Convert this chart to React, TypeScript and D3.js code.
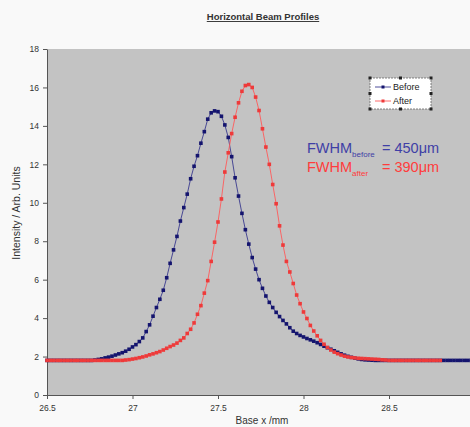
import React, { useEffect, useRef } from 'react';
import * as d3 from 'd3';

// beam position sampling (mm) – scan starts at 26.5 and steps 0.02 mm
const scanStart = 26.5;
const scanStep = 0.02;

// intensity, one value per scan position
const beforeValues = [
    1.8, 1.8, 1.8, 1.8, 1.8, 1.8, 1.8, 1.8, 1.8, 1.8, // 26.50
    1.8, 1.8, 1.8, 1.8, 1.82, 1.85, 1.88, 1.93, 1.97, 2.02, // 26.70
    2.08, 2.14, 2.2, 2.28, 2.38, 2.5, 2.62, 2.78, 2.97, 3.3, // 26.90
    3.65, 4.1, 4.55, 4.98, 5.45, 6.1, 6.85, 7.55, 8.25, 9.05, // 27.10
    9.75, 10.45, 11.25, 11.9, 12.45, 13.1, 13.7, 14.35, 14.68, 14.78, // 27.30
    14.74, 14.5, 14.05, 13.4, 12.4, 11.3, 10.35, 9.45, 8.6, 7.85, // 27.50
    7.15, 6.55, 6.0, 5.55, 5.15, 4.82, 4.55, 4.3, 4.08, 3.88, // 27.70
    3.7, 3.5, 3.32, 3.2, 3.1, 3.02, 2.94, 2.87, 2.8, 2.72, // 27.90
    2.63, 2.54, 2.46, 2.38, 2.3, 2.22, 2.14, 2.07, 2.01, 1.96, // 28.10
    1.92, 1.88, 1.85, 1.83, 1.82, 1.81, 1.8, 1.8, 1.8, 1.8, // 28.30
    1.8, 1.8, 1.8, 1.8, 1.8, 1.8, 1.8, 1.8, 1.8, 1.8, // 28.50
    1.8, 1.8, 1.8, 1.8, 1.8, 1.8, 1.8, 1.8, 1.8, 1.8, // 28.70
    1.8, 1.8, 1.8, 1.8, 1.8, 1.8, // 28.90
];

const afterValues = [
    1.8, 1.8, 1.8, 1.8, 1.8, 1.8, 1.8, 1.8, 1.8, 1.8, // 26.50
    1.8, 1.8, 1.8, 1.8, 1.8, 1.8, 1.8, 1.8, 1.8, 1.8, // 26.70
    1.8, 1.8, 1.8, 1.82, 1.84, 1.87, 1.9, 1.94, 1.98, 2.03, // 26.90
    2.09, 2.14, 2.2, 2.26, 2.34, 2.43, 2.52, 2.6, 2.7, 2.84, // 27.10
    2.97, 3.2, 3.42, 3.75, 4.2, 4.65, 5.3, 5.95, 6.95, 7.95, // 27.30
    9.0, 10.2, 11.6, 12.6, 13.6, 14.45, 15.2, 15.8, 16.1, 16.15, // 27.50
    16.0, 15.5, 14.8, 13.85, 12.9, 12.0, 10.95, 9.95, 8.8, 7.8, // 27.70
    6.95, 6.4, 5.8, 5.2, 4.75, 4.32, 3.98, 3.62, 3.33, 3.08, // 27.90
    2.84, 2.64, 2.47, 2.34, 2.23, 2.15, 2.08, 2.02, 1.98, 1.95, // 28.10
    1.93, 1.91, 1.9, 1.89, 1.88, 1.87, 1.86, 1.85, 1.83, 1.82, // 28.30
    1.8, 1.8, 1.8, 1.8, 1.8, 1.8, 1.8, 1.8, 1.8, 1.8, // 28.50
    1.8, 1.8, 1.8, 1.8, 1.8, 1.8, // 28.70
];

const xTicks = [26.5, 27, 27.5, 28, 28.5, 29];
const yTicks = [0, 2, 4, 6, 8, 10, 12, 14, 16, 18];

const seriesNames = ['Before', 'After'];
const fwhmSubscripts = ['before', 'after'];
const fwhmValues = ['450', '390'];

const font = 'Liberation Sans, Arial, sans-serif';

type Pt = { x: number; y: number };

function App() {
    const node = useRef<SVGSVGElement | null>(null);

    useEffect(() => {
        const width = 470;
        const height = 427;
        const left = 47;
        const top = 49;
        const bottom = 395;
        const right = 474.5; // plot area runs off the right edge

        const svg = d3.select(node.current);
        svg.selectAll('*').remove();

        svg.append('rect')
            .attr('width', width)
            .attr('height', height)
            .attr('fill', '#f9f9f9');

        // scales
        const xScale = d3.scaleLinear().domain([26.5, 29]).range([left, right]);
        const yScale = d3.scaleLinear().domain([0, 18]).range([bottom, top]);

        // plot area
        svg.append('rect')
            .attr('x', left)
            .attr('y', top)
            .attr('width', right - left)
            .attr('height', bottom - top)
            .attr('fill', '#c3c3c3');

        // title
        svg.append('text')
            .attr('x', 263)
            .attr('y', 20)
            .attr('text-anchor', 'middle')
            .style('font-family', font)
            .style('font-size', '9.5px')
            .style('font-weight', 'bold')
            .style('text-decoration', 'underline')
            .attr('fill', '#333')
            .text('Horizontal Beam Profiles');

        // axes
        const yAxis = d3.axisLeft(yScale)
            .tickValues(yTicks)
            .tickSize(4)
            .tickSizeOuter(0)
            .tickPadding(4)
            .tickFormat(d3.format('d'));

        const xAxis = d3.axisBottom(xScale)
            .tickValues(xTicks)
            .tickSize(4)
            .tickSizeOuter(0)
            .tickPadding(6)
            .tickFormat((d) => String(d));

        const yG = svg.append('g')
            .attr('transform', `translate(${left},0)`)
            .call(yAxis);
        const xG = svg.append('g')
            .attr('transform', `translate(0,${bottom})`)
            .call(xAxis);

        [yG, xG].forEach((g) => {
            g.select('.domain').attr('stroke', '#555').attr('stroke-width', 1);
            g.selectAll('.tick line').attr('stroke', '#555');
            g.selectAll('text')
                .attr('fill', '#333')
                .style('font-family', font)
                .style('font-size', '8.5px');
        });

        // axis titles
        svg.append('text')
            .attr('x', 262)
            .attr('y', 424)
            .attr('text-anchor', 'middle')
            .style('font-family', font)
            .style('font-size', '10px')
            .attr('fill', '#333')
            .text('Base x /mm');

        svg.append('text')
            .attr('transform', 'translate(20,213) rotate(-90)')
            .attr('text-anchor', 'middle')
            .style('font-family', font)
            .style('font-size', '10.5px')
            .attr('fill', '#333')
            .text('Intensity / Arb. Units');

        // series
        const toPts = (vals: number[]): Pt[] => vals.map((v, i) => ({ x: scanStart + i * scanStep, y: v }));
        const series = [
            { name: seriesNames[0], pts: toPts(beforeValues), line: '#3a3a8e', mark: '#14146e' },
            { name: seriesNames[1], pts: toPts(afterValues), line: '#ff5a5a', mark: '#ee3a3a' },
        ];

        const line = d3.line<Pt>()
            .x((d) => xScale(d.x))
            .y((d) => yScale(d.y));

        const ms = 3.6;
        series.forEach((s) => {
            const g = svg.append('g');
            g.append('path')
                .datum(s.pts)
                .attr('d', line)
                .attr('fill', 'none')
                .attr('stroke', s.line)
                .attr('stroke-width', 0.9);
            g.selectAll('rect')
                .data(s.pts)
                .enter()
                .append('rect')
                .attr('x', (d) => xScale(d.x) - ms / 2)
                .attr('y', (d) => yScale(d.y) - ms / 2)
                .attr('width', ms)
                .attr('height', ms)
                .attr('fill', s.mark);
        });

        // legend (selected, with handles)
        const lg = svg.append('g');
        const lx = 370;
        const ly = 78;
        const lw = 61;
        const lh = 31;
        lg.append('rect')
            .attr('x', lx)
            .attr('y', ly)
            .attr('width', lw)
            .attr('height', lh)
            .attr('fill', '#fff')
            .attr('stroke', '#666')
            .attr('stroke-width', 0.8)
            .attr('stroke-dasharray', '2,1');
        series.forEach((s, i) => {
            const cy = ly + 9 + i * 14;
            lg.append('line')
                .attr('x1', lx + 5)
                .attr('x2', lx + 21)
                .attr('y1', cy)
                .attr('y2', cy)
                .attr('stroke', s.line)
                .attr('stroke-width', 0.9);
            lg.append('rect')
                .attr('x', lx + 13 - 1.5)
                .attr('y', cy - 1.5)
                .attr('width', 3)
                .attr('height', 3)
                .attr('fill', s.mark);
            lg.append('text')
                .attr('x', lx + 23)
                .attr('y', cy + 3)
                .style('font-family', font)
                .style('font-size', '9px')
                .attr('fill', '#222')
                .text(s.name);
        });
        const hx = [lx, lx + lw / 2, lx + lw];
        const hy = [ly, ly + lh / 2, ly + lh];
        hx.forEach((x) => hy.forEach((y) => {
            if (x === lx + lw / 2 && y === ly + lh / 2) return;
            lg.append('rect')
                .attr('x', x - 1.5)
                .attr('y', y - 1.5)
                .attr('width', 3)
                .attr('height', 3)
                .attr('fill', '#222');
        }));

        // FWHM annotations
        const fwhmColors = ['#3f3fa6', '#ff3c3c'];
        fwhmValues.forEach((v, i) => {
            const t = svg.append('text')
                .attr('x', 307)
                .attr('y', 153 + i * 19)
                .style('font-family', font)
                .style('font-size', '14.5px')
                .attr('fill', fwhmColors[i]);
            t.append('tspan').text('FWHM');
            t.append('tspan')
                .attr('dy', 4)
                .style('font-size', '8px')
                .text(fwhmSubscripts[i]);
            t.append('tspan')
                .attr('x', 382)
                .attr('dy', -4)
                .text(`= ${v}\u03bcm`);
        });
    }, []);

    return (
        <svg
            ref={node}
            width={470}
            height={427}
            style={{ position: 'absolute', left: 0, top: 0 }}
        />
    );
}

export default App;
